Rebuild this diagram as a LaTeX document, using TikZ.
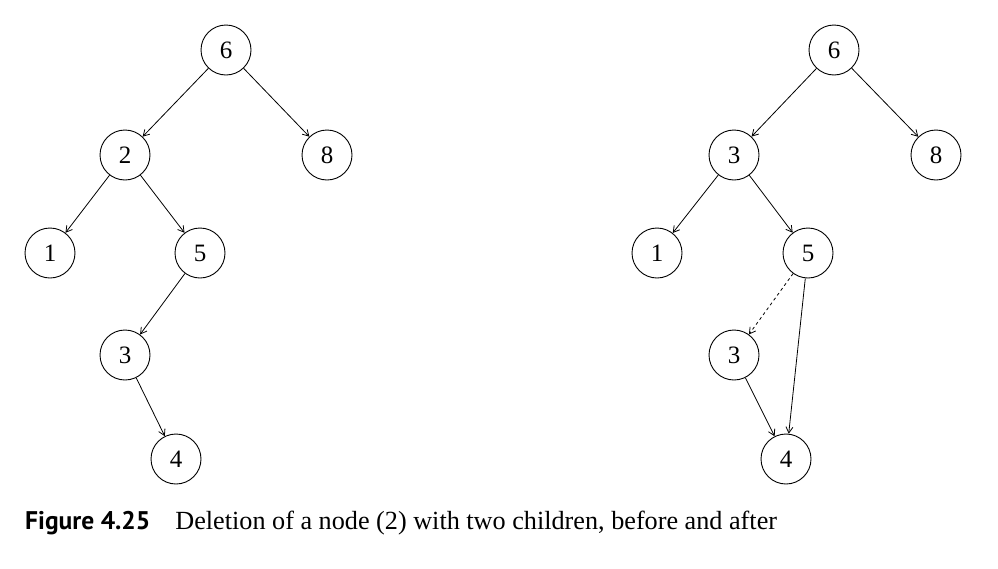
\documentclass[tikz,border=0pt]{standalone}
\usepackage{fontspec}
\setmainfont{Liberation Serif}
\newfontfamily\capfont{PT Sans}
\usetikzlibrary{arrows.meta}
\begin{document}
\begin{tikzpicture}[x=1pt,y=-1pt,
  tn/.style={circle,draw,line width=0.9pt,minimum size=50pt,inner sep=0pt,font=\fontsize{25}{25}\selectfont},
  ed/.style={line width=0.8pt,-{Straight Barb[length=6pt,width=7pt,line width=0.8pt]}}]
\useasboundingbox (0,0) rectangle (998,568);
% left tree
\node[tn] (a6) at (226,50) {6};
\node[tn] (a2) at (125,155) {2};
\node[tn] (a8) at (327,155) {8};
\node[tn] (a1) at (50,253) {1};
\node[tn] (a5) at (200,253) {5};
\node[tn] (a3) at (125,355) {3};
\node[tn] (a4) at (176,459) {4};
\draw[ed] (a6) -- (a2);
\draw[ed] (a6) -- (a8);
\draw[ed] (a2) -- (a1);
\draw[ed] (a2) -- (a5);
\draw[ed] (a5) -- (a3);
\draw[ed] (a3) -- (a4);
% right tree
\node[tn] (b6) at (834,50) {6};
\node[tn] (b3) at (734,155) {3};
\node[tn] (b8) at (936,155) {8};
\node[tn] (b1) at (657,253) {1};
\node[tn] (b5) at (808,253) {5};
\node[tn] (b3b) at (734,355) {3};
\node[tn] (b4) at (786,459) {4};
\draw[ed] (b6) -- (b3);
\draw[ed] (b6) -- (b8);
\draw[ed] (b3) -- (b1);
\draw[ed] (b3) -- (b5);
\draw[ed,dashed] (b5) -- (b3b);
\draw[ed] (b5) -- (b4);
\draw[ed] (b3b) -- (b4);
% caption
\node[anchor=base west,inner sep=0pt] (cap) at (25,529) {{\capfont\bfseries\fontsize{25.5}{25.5}\selectfont Figure 4.25}\hspace{25pt}{\fontsize{26.2}{26.2}\selectfont Deletion of a node (2) with two children, before and after}};
\end{tikzpicture}
\end{document}
